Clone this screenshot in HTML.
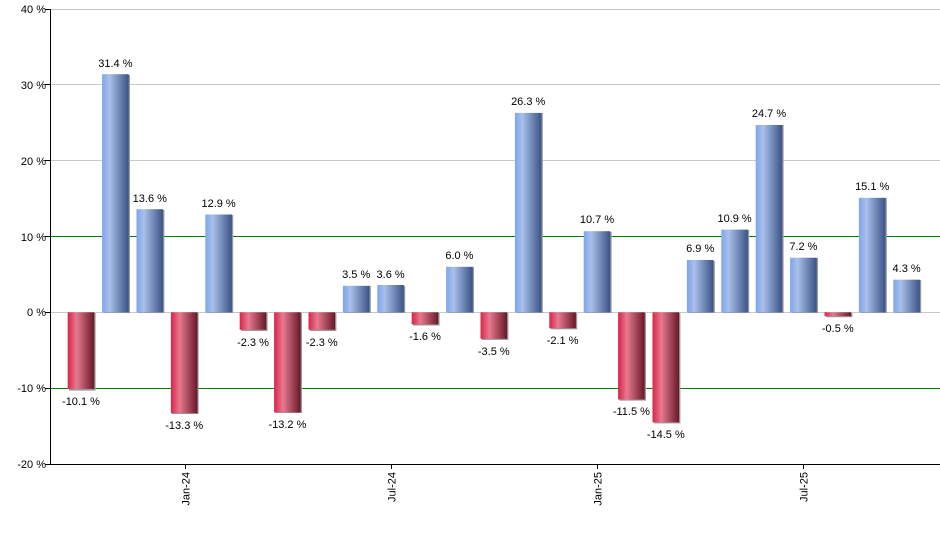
<!DOCTYPE html>
<html><head><meta charset="utf-8"><style>body{margin:0;background:#fff}svg{display:block;font-family:"Liberation Sans",sans-serif;font-size:11px}</style></head><body>
<svg width="940" height="550" viewBox="0 0 940 550">
<defs>
<linearGradient id="b" x1="0" x2="1" y1="0" y2="0"><stop offset="0" stop-color="#7ea5ee"/><stop offset="0.28" stop-color="#a9c0ea"/><stop offset="1" stop-color="#3a5385"/></linearGradient>
<linearGradient id="r" x1="0" x2="1" y1="0" y2="0"><stop offset="0" stop-color="#d8244a"/><stop offset="0.33" stop-color="#e8798f"/><stop offset="1" stop-color="#661828"/></linearGradient>
</defs>
<g stroke="#c8c8c8" stroke-width="1">
<line x1="50" x2="940" y1="9.5" y2="9.5"/><line x1="50" x2="940" y1="84.5" y2="84.5"/><line x1="50" x2="940" y1="160.5" y2="160.5"/><line x1="50" x2="940" y1="312.5" y2="312.5"/>
</g>
<g stroke="#008000" stroke-width="1"><line x1="50" x2="940" y1="236.5" y2="236.5"/><line x1="50" x2="940" y1="388.5" y2="388.5"/></g>
<g fill="#999">
<rect x="69" y="313" width="26.6" height="77.6"/><rect x="103.4" y="75" width="26.6" height="238"/><rect x="137.8" y="210" width="26.6" height="103"/><rect x="172" y="313" width="26.6" height="101"/><rect x="206.6" y="215" width="26.6" height="98"/><rect x="241" y="313" width="26.6" height="18"/><rect x="275.4" y="313" width="26.6" height="100"/><rect x="309.8" y="313" width="26.6" height="18"/><rect x="344.2" y="286" width="26.6" height="27"/><rect x="378.6" y="286" width="26.6" height="27"/><rect x="413" y="313" width="26.6" height="12.5"/><rect x="447.4" y="267" width="26.6" height="46"/><rect x="481.8" y="313" width="26.6" height="26.9"/><rect x="516.2" y="113" width="26.6" height="200"/><rect x="550.6" y="313" width="26.6" height="16.3"/><rect x="585" y="232" width="26.6" height="81"/><rect x="619.4" y="313" width="26.6" height="87.6"/><rect x="653.8" y="313" width="26.6" height="110.4"/><rect x="688.2" y="261" width="26.6" height="52"/><rect x="722.6" y="230" width="26.6" height="83"/><rect x="757" y="125" width="26.6" height="188"/><rect x="791.4" y="258" width="26.6" height="55"/><rect x="825.8" y="313" width="26.6" height="4.2"/><rect x="860.2" y="198" width="26.6" height="115"/><rect x="894.6" y="280" width="26.6" height="33"/>
</g>
<g>
<rect x="67.7" y="312.3" width="26.6" height="76.6" fill="url(#r)"/>
<rect x="102.1" y="74.2" width="26.6" height="238.1" fill="url(#b)"/>
<rect x="136.5" y="209.2" width="26.6" height="103.1" fill="url(#b)"/>
<rect x="170.9" y="312.3" width="26.6" height="100.9" fill="url(#r)"/>
<rect x="205.3" y="214.5" width="26.6" height="97.8" fill="url(#b)"/>
<rect x="239.7" y="312.3" width="26.6" height="17.4" fill="url(#r)"/>
<rect x="274.1" y="312.3" width="26.6" height="100.1" fill="url(#r)"/>
<rect x="308.5" y="312.3" width="26.6" height="17.4" fill="url(#r)"/>
<rect x="342.9" y="285.8" width="26.6" height="26.5" fill="url(#b)"/>
<rect x="377.3" y="285.0" width="26.6" height="27.3" fill="url(#b)"/>
<rect x="411.7" y="312.3" width="26.6" height="12.1" fill="url(#r)"/>
<rect x="446.1" y="266.8" width="26.6" height="45.5" fill="url(#b)"/>
<rect x="480.5" y="312.3" width="26.6" height="26.5" fill="url(#r)"/>
<rect x="514.9" y="112.9" width="26.6" height="199.4" fill="url(#b)"/>
<rect x="549.3" y="312.3" width="26.6" height="15.9" fill="url(#r)"/>
<rect x="583.7" y="231.2" width="26.6" height="81.1" fill="url(#b)"/>
<rect x="618.1" y="312.3" width="26.6" height="87.2" fill="url(#r)"/>
<rect x="652.5" y="312.3" width="26.6" height="110" fill="url(#r)"/>
<rect x="686.9" y="260.0" width="26.6" height="52.3" fill="url(#b)"/>
<rect x="721.3" y="229.6" width="26.6" height="82.7" fill="url(#b)"/>
<rect x="755.7" y="125.0" width="26.6" height="187.3" fill="url(#b)"/>
<rect x="790.1" y="257.7" width="26.6" height="54.6" fill="url(#b)"/>
<rect x="824.5" y="312.3" width="26.6" height="3.8" fill="url(#r)"/>
<rect x="858.9" y="197.8" width="26.6" height="114.5" fill="url(#b)"/>
<rect x="893.3" y="279.7" width="26.6" height="32.6" fill="url(#b)"/>
</g>
<g fill="#000" text-anchor="middle">
<text x="81" y="405">-10.1 %</text>
<text x="115.4" y="67">31.4 %</text>
<text x="149.8" y="202">13.6 %</text>
<text x="184.2" y="429">-13.3 %</text>
<text x="218.6" y="207">12.9 %</text>
<text x="253" y="346">-2.3 %</text>
<text x="287.4" y="428">-13.2 %</text>
<text x="321.8" y="346">-2.3 %</text>
<text x="356.2" y="278">3.5 %</text>
<text x="390.6" y="278">3.6 %</text>
<text x="425" y="340">-1.6 %</text>
<text x="459.4" y="259">6.0 %</text>
<text x="493.8" y="355">-3.5 %</text>
<text x="528.2" y="105">26.3 %</text>
<text x="562.6" y="344">-2.1 %</text>
<text x="597" y="223">10.7 %</text>
<text x="631.4" y="415">-11.5 %</text>
<text x="665.8" y="438">-14.5 %</text>
<text x="700.2" y="252">6.9 %</text>
<text x="734.6" y="222">10.9 %</text>
<text x="769" y="117">24.7 %</text>
<text x="803.4" y="250">7.2 %</text>
<text x="837.8" y="332">-0.5 %</text>
<text x="872.2" y="190">15.1 %</text>
<text x="906.6" y="272">4.3 %</text>
</g>
<g stroke="#000" stroke-width="1">
<line x1="50.5" x2="50.5" y1="9" y2="464"/><line x1="50" x2="940" y1="464.5" y2="464.5"/>
<line x1="45" x2="50" y1="9.5" y2="9.5"/><line x1="45" x2="50" y1="84.5" y2="84.5"/><line x1="45" x2="50" y1="160.5" y2="160.5"/><line x1="45" x2="50" y1="236.5" y2="236.5"/><line x1="45" x2="50" y1="312.5" y2="312.5"/><line x1="45" x2="50" y1="388.5" y2="388.5"/><line x1="45" x2="50" y1="464.5" y2="464.5"/>
<line x1="185.5" x2="185.5" y1="464" y2="469"/><line x1="391.5" x2="391.5" y1="464" y2="469"/><line x1="597.5" x2="597.5" y1="464" y2="469"/><line x1="803.5" x2="803.5" y1="464" y2="469"/>
</g>
<g fill="#000" text-anchor="end">
<text x="46" y="13">40 %</text><text x="46" y="89">30 %</text><text x="46" y="165">20 %</text><text x="46" y="241">10 %</text><text x="46" y="316">0 %</text><text x="46" y="392">-10 %</text><text x="46" y="468">-20 %</text>
<text transform="translate(189.5,472) rotate(-90)">Jan-24</text>
<text transform="translate(395.5,472) rotate(-90)">Jul-24</text>
<text transform="translate(601.5,472) rotate(-90)">Jan-25</text>
<text transform="translate(807.5,472) rotate(-90)">Jul-25</text>
</g>
</svg>
</body></html>
